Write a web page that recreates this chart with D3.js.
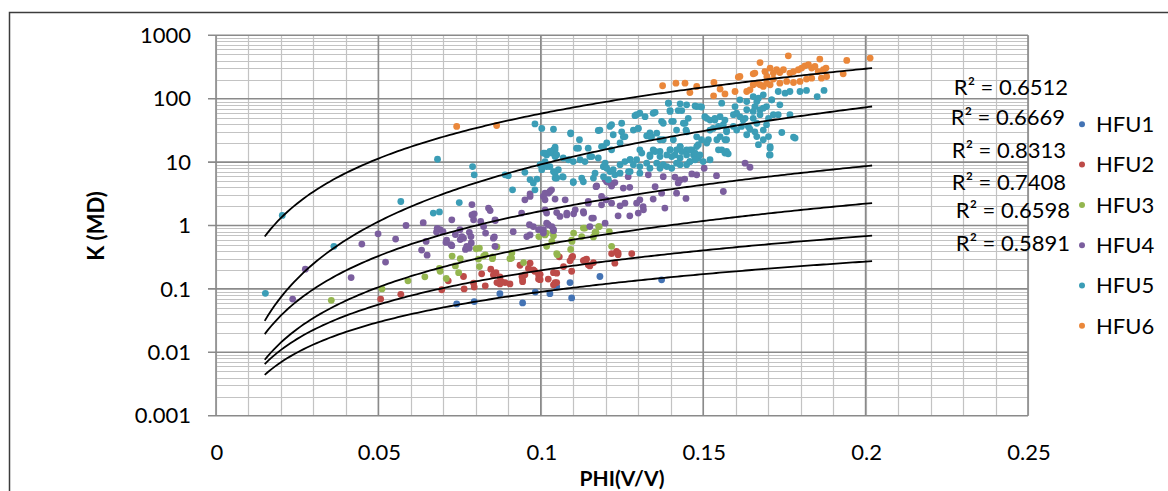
<!DOCTYPE html>
<html>
<head>
<meta charset="utf-8">
<script src="https://cdn.jsdelivr.net/npm/d3@7/dist/d3.min.js"></script>
<style>
  body { margin: 0; background: #fff; }
  svg { display: block; font-family: Lato, "Open Sans", sans-serif; }
</style>
</head>
<body>
<div class="visHolder"></div>
<script>
// series: [PHI, K]
let hfu1 = [[0.0741,0.058],[0.0795,0.063],[0.0874,0.084],[0.0944,0.06],[0.0983,0.089],[0.1028,0.084],[0.1095,0.072],[0.1182,0.157],[0.109,0.126],[0.1372,0.139],[0.1049,0.109]];

let hfu2 = [[0.0507,0.069],[0.0569,0.082],[0.0695,0.097],[0.0715,0.134],[0.0762,0.157],[0.0764,0.10],[0.0793,0.123],[0.0795,0.107],[0.0829,0.112],[0.0846,0.205],[0.0862,0.18],[0.0874,0.154],[0.0936,0.236],[0.0942,0.157],[0.0944,0.13],[0.0962,0.21],[0.0981,0.19],[0.0993,0.143],[0.1023,0.143],[0.1049,0.126],[0.1057,0.32],[0.109,0.277],[0.1098,0.325],[0.1136,0.287],[0.1146,0.24],[0.1162,0.26],[0.0874,0.12],[0.089,0.126],[0.0905,0.12],[0.0998,0.17],[0.1044,0.126],[0.1039,0.18],[0.107,0.225],[0.1095,0.19],[0.1095,0.31],[0.1131,0.28],[0.1141,0.295],[0.1151,0.23],[0.1218,0.36],[0.1233,0.39],[0.1228,0.255],[0.128,0.36],[0.1238,0.345],[0.0818,0.173],[0.0854,0.167],[0.0865,0.126],[0.0879,0.13],[0.0944,0.14],[0.0951,0.167],[0.0967,0.255],[0.0977,0.2],[0.0993,0.167],[0.0998,0.14],[0.1039,0.116],[0.1049,0.177],[0.1238,0.37]];

let hfu3 = [[0.0355,0.066],[0.0511,0.1],[0.0591,0.134],[0.0643,0.155],[0.0727,0.33],[0.0752,0.30],[0.0801,0.43],[0.0811,0.44],[0.0824,0.33],[0.0851,0.30],[0.0865,0.46],[0.0688,0.21],[0.069,0.19],[0.0709,0.146],[0.0737,0.23],[0.0747,0.18],[0.0811,0.225],[0.0905,0.30],[0.0911,0.37],[0.0947,0.26],[0.0994,0.67],[0.1017,0.76],[0.1037,0.80],[0.1051,0.345],[0.1101,0.76],[0.1096,0.56],[0.1092,0.42],[0.1136,0.91],[0.1162,0.66],[0.117,0.78],[0.118,0.96],[0.1211,0.80],[0.1013,0.71],[0.1039,0.69],[0.1018,0.47],[0.1095,0.59],[0.1131,0.91],[0.1126,0.67],[0.1167,0.78],[0.1178,0.96],[0.1218,0.47],[0.1049,0.36],[0.0808,0.295],[0.0829,0.345],[0.0852,0.32],[0.091,0.306],[0.1034,0.56]];

let hfu4 = [[0.0275,0.205],[0.0236,0.069],[0.0416,0.151],[0.0449,0.51],[0.0499,0.74],[0.0522,0.265],[0.0553,0.61],[0.0585,1.0],[0.0638,1.11],[0.0633,0.41],[0.065,0.34],[0.0647,0.56],[0.0681,0.9],[0.069,0.86],[0.0679,0.79],[0.0699,0.8],[0.0726,1.23],[0.0788,2.14],[0.0795,1.53],[0.0793,1.23],[0.078,0.78],[0.0815,1.16],[0.0824,0.96],[0.083,0.76],[0.0839,1.88],[0.086,1.2],[0.0857,0.66],[0.0708,0.54],[0.0723,0.5],[0.0737,0.72],[0.0752,0.6],[0.0762,0.63],[0.0768,0.42],[0.078,0.44],[0.0786,0.53],
  [0.0941,1.57],[0.0965,1.03],[0.0967,0.71],[0.0993,0.86],[0.1018,1.57],[0.1023,1.03],[0.1039,0.83],[0.1049,1.6],[0.1059,1.39],[0.108,1.57],[0.1101,1.53],[0.1132,1.57],[0.1146,2.25],[0.1162,1.31],[0.1198,1.09],[0.1201,2.54],[0.0915,0.80],
  [0.1008,2.87],[0.1023,3.24],[0.1033,3.66],[0.1044,2.61],[0.1075,2.54],[0.1013,1.77],[0.108,1.47],[0.1106,1.77],[0.1131,1.66],[0.1157,1.31],[0.1146,2.39],[0.1187,2.87],[0.1172,4.2],[0.1198,5.3],[0.1218,4.2],[0.1228,4.76],[0.1254,3.9],[0.1274,4.0],[0.1269,5.9],[0.1218,2.25],[0.1244,2.04],[0.1259,2.25],[0.1305,2.54],[0.1315,1.99],[0.13,1.57],[0.1238,1.42],[0.1274,1.42],[0.1331,6.3],[0.1352,4.1],[0.1377,5.9],[0.1372,3.24],[0.1346,2.61],[0.1382,1.88],[0.1413,5.8],[0.1429,5.2],[0.1443,5.4],[0.1423,4.7],[0.1465,6.5],[0.148,6.3],[0.1503,8.0],[0.1418,3.24],[0.1447,2.67],[0.1562,3.44],[0.1018,1.09],[0.1008,0.86],[0.1039,0.86],[0.1151,0.96],
  [0.071,0.59],[0.0726,0.48],[0.0751,0.86],[0.0757,0.67],[0.0772,0.47],[0.0785,0.67],[0.0788,1.47],[0.0844,1.72],[0.0854,0.63],[0.0859,0.47],[0.0859,1.23],[0.0951,2.54],[0.0967,2.87],[0.0977,0.96],[0.0957,0.67],[0.1013,2.54],[0.1028,3.44],[0.1034,0.96],[0.0998,0.86],[0.1008,0.76],
  [0.1629,9.6],[0.1644,8.3],[0.1541,6.1],[0.1316,1.77],[0.1295,2.25],[0.0967,3.16],[0.1013,3.24],[0.1187,2.12],[0.117,4.1],[0.1203,4.9],[0.1213,4.7]];

let hfu5 = [[0.0204,1.44],[0.0152,0.085],[0.0363,0.47],[0.0569,2.39],[0.0669,1.57],[0.0688,1.64],[0.0749,2.3],[0.0682,11.1],[0.079,8.5],[0.0795,6.3],[0.089,6.3],[0.09,6.1],[0.0913,3.66],[0.0951,6.9],[0.0967,5.3],[0.0977,4.7],[0.0988,5.4],[0.0982,3.66],[0.1003,7.6],[0.1013,10.2],[0.1018,13],[0.1034,13.9],[0.1039,15.6],[0.1044,12.2],[0.1049,5.6],[0.1028,8.5],[0.1054,7.6],[0.0998,9.1],[0.0982,40],
  [0.1003,34],[0.1039,33],[0.1092,29],[0.1119,22.5],[0.1177,31.5],[0.1218,39],[0.1249,30],[0.1254,25],[0.13,34],[0.1305,59],[0.129,54],[0.1346,59],[0.1393,85],[0.1398,65],[0.1429,83],[0.1434,65],[0.148,75],[0.1495,74],[0.1505,52],[0.1557,85],[0.1593,56],[0.1572,32],[0.1567,22.5],[0.1603,32],[0.1531,34],[0.1542,22.5],[0.1516,22.5],[0.148,25],[0.1449,30],[0.1439,41],[0.1408,44],[0.1377,41],[0.1336,29],[0.1341,25],[0.1367,22.5],[0.1408,22.5],[0.1429,17.6],[0.1449,15.6],[0.147,13],[0.15,10.2],[0.1557,15.6],[0.1572,14.7],[0.1398,15.6],[0.1367,14.7],[0.1336,12.2],[0.1305,15.6],[0.1295,10.9],[0.1275,10.9],[0.1259,10.2],[0.1244,20],[0.1203,20],[0.1187,17.6],[0.1177,11.6],[0.1151,12.2],[0.1146,16.6],[0.111,16.6],[0.11,10.2],[0.1121,10.9],[0.1069,11.6],[0.1044,15.6],[0.1013,13.9],[0.1003,9.1],[0.1018,8.5],[0.1044,6.7],[0.1069,5.8],[0.11,4.9],[0.1126,5.6],[0.1162,5.6],[0.1193,8.5],[0.1213,7.1],[0.1228,6.3],[0.1208,5.3],[0.127,7.1],[0.1305,6.7],[0.1336,8.0],[0.1357,9.6],[0.1377,9.1],[0.1403,8.0],[0.1429,9.1],[0.1459,10.2],[0.1485,11.6],[0.1511,20],[0.148,17.6],[0.1521,32],[0.1536,46],[0.1567,46],[0.1598,75],
  [0.1393,85],[0.1398,63],[0.1423,65],[0.1449,80],[0.1475,77],[0.149,75],[0.1454,49],[0.1444,41],[0.1447,32],[0.1418,32],[0.1403,44],[0.1372,44],[0.1352,61],[0.1321,52],[0.1295,56],[0.13,34],[0.1326,26],[0.1336,25.3],[0.1357,28.6],[0.1346,15.6],[0.1377,22.5],[0.1398,15.6],[0.1413,13],[0.1429,17.6],[0.1465,15.6],[0.1475,13.9],[0.1485,18.8],[0.1495,22.5],[0.1511,49],[0.1521,46],[0.1536,49],[0.1552,52],[0.1547,36.5],[0.1562,39],[0.1572,30],[0.1593,36.5],[0.1603,59],[0.1613,52],[0.1629,49],[0.1639,36.5],[0.1654,63],[0.1665,90],[0.1675,67],[0.1695,75],[0.1711,96],[0.1665,41],[0.1685,32],[0.1701,25.3],[0.1706,17.6],[0.1706,13],[0.1634,27],[0.1665,25.3],[0.1552,25.3],[0.1572,22.5],[0.1547,15.6],[0.1567,13.9],[0.1577,13.5],[0.1521,10.9],
  [0.1613,96],[0.1634,90],[0.1654,108],[0.167,102],[0.1685,115],[0.1711,96],[0.1731,130],[0.1752,122],[0.1767,130],[0.1798,130],[0.1818,135],[0.1851,108],[0.1872,135],[0.1634,67],[0.1659,75],[0.1685,71],[0.1716,56],[0.1736,80],[0.1623,46],[0.1654,49],[0.1675,56],[0.1701,49],[0.1731,56],[0.1767,56],[0.1695,39],[0.1659,30],[0.1685,22.5],[0.167,18.8],[0.1742,29.3],[0.1783,23.9],[0.1706,16.6],[0.1704,13],[0.1618,36.5],[0.1644,33],[0.1778,24.8],
  [0.1092,28],[0.1008,13.9],[0.1028,14.7],[0.1044,17.2],[0.1049,13],[0.1085,10.9],[0.1116,16.6],[0.1136,10.2],[0.1157,12.2],[0.1193,17.6],[0.1193,8.5],[0.1039,7.1],[0.1044,5.6],[0.1067,5.9],[0.11,4.76],[0.1131,4.9],[0.1167,6.7],[0.1193,5.9],
  [0.1182,32],[0.1213,36.5],[0.1223,27],[0.1249,41],[0.1259,25.3],[0.1285,32],[0.1218,15.6],[0.1198,9.6],[0.1244,9.1],[0.1275,10.9],[0.1285,9.1],[0.1311,13.9],
  [0.1336,13],[0.1352,14.7],[0.1367,12.2],[0.1388,13],[0.1403,12.2],[0.1418,15.6],[0.1434,14.7],[0.1429,11.6],[0.1449,13],[0.1459,15.6],[0.1475,10.9],[0.149,13],[0.1367,8.0],[0.1388,8.5],[0.1418,9.6],[0.1449,9.1],[0.1459,10.2],[0.1326,9.6],[0.1305,8.5],[0.1275,7.1],[0.1244,6.7],[0.1223,7.6],[0.1203,8.0]];

let hfu6 = [[0.0741,36.5],[0.0864,37.8],[0.1608,219],
  [0.1375,160],[0.1416,176],[0.1444,176],[0.1459,125],[0.148,156],[0.1533,180],[0.1532,111],[0.1552,142],[0.1567,119],[0.1598,130],[0.1634,130],[0.1675,372],[0.1654,247],[0.1665,176],[0.1685,156],[0.1696,224],[0.1716,254],[0.1726,286],[0.1706,166],[0.1654,166],[0.1644,138],
  [0.1659,254],[0.169,268],[0.1706,304],[0.1736,259],[0.1747,286],[0.1762,475],[0.1767,254],[0.1778,268],[0.1793,286],[0.1803,304],[0.1813,330],[0.1824,343],[0.1834,304],[0.1844,322],[0.1859,422],[0.1854,268],[0.187,286],[0.1878,304],[0.188,224],[0.1864,211],[0.1834,211],[0.1818,204],[0.1798,187],[0.1778,180],[0.1757,187],[0.1736,176],[0.1716,204],[0.1695,176],[0.1675,166],[0.1942,401],[0.1931,247],[0.2014,437],[0.1613,224]];

let seriesNames = ["HFU1", "HFU2", "HFU3", "HFU4", "HFU5", "HFU6"];
let seriesData = [hfu1, hfu2, hfu3, hfu4, hfu5, hfu6];
let seriesColors = ["#4373b4", "#bd4b48", "#94b64f", "#7b5e9e", "#3b9db6", "#ea873a"];

// power trendlines K = a * PHI^b, from top curve to bottom curve
let trendA = [13100, 9050, 382, 74.9, 12.14, 3.475];
let trendB = [2.353, 2.994, 2.355, 2.189, 1.793, 1.588];
let trendRange = [0.015, 0.202];
let rSquared = ["0.6512", "0.6669", "0.8313", "0.7408", "0.6598", "0.5891"];

let xTicks = [0, 0.05, 0.1, 0.15, 0.2, 0.25];
let xTickLabels = ["0", "0.05", "0.1", "0.15", "0.2", "0.25"];
let yTicks = [0.001, 0.01, 0.1, 1, 10, 100, 1000];
let yTickLabels = ["0.001", "0.01", "0.1", "1", "10", "100", "1000"];

let width = 1168;
let height = 491;

let svg = d3
  .select(".visHolder")
  .append("svg")
  .attr("width", width)
  .attr("height", height);

let xScale = d3.scaleLinear().domain([0, 0.25]).range([216, 1028]);
let yScale = d3.scaleLog().domain([0.001, 1000]).range([415.7, 35.3]);

// outer frame
svg.append("path")
  .attr("d", "M9.5,500V12.5H1180")
  .attr("fill", "none")
  .attr("stroke", "#3c3c3c")
  .attr("stroke-width", 1.5);

// minor gridlines
let minorY = [];
for (let e = -3; e < 3; e++) {
  for (let m = 2; m < 10; m++) minorY.push(m * Math.pow(10, e));
}
let minorX = d3.range(0, 26).map(function (i) { return i / 100; });

let grid = svg.append("g");
grid.selectAll(".minor-y")
  .data(minorY)
  .enter()
  .append("line")
  .attr("x1", xScale(0))
  .attr("x2", xScale(0.25))
  .attr("y1", function (d) { return Math.round(yScale(d)) + 0.5; })
  .attr("y2", function (d) { return Math.round(yScale(d)) + 0.5; })
  .attr("stroke", "#c3c3c3")
  .attr("stroke-width", 1);

grid.selectAll(".minor-x")
  .data(minorX)
  .enter()
  .append("line")
  .attr("x1", function (d) { return Math.round(xScale(d)) + 0.5; })
  .attr("x2", function (d) { return Math.round(xScale(d)) + 0.5; })
  .attr("y1", yScale(1000))
  .attr("y2", yScale(0.001))
  .attr("stroke", "#c3c3c3")
  .attr("stroke-width", 1.2);

grid.selectAll(".major-y")
  .data(yTicks)
  .enter()
  .append("line")
  .attr("x1", xScale(0) - 8)
  .attr("x2", xScale(0.25))
  .attr("y1", function (d) { return yScale(d); })
  .attr("y2", function (d) { return yScale(d); })
  .attr("stroke", "#8a8a8a")
  .attr("stroke-width", 1.6);

grid.selectAll(".major-x")
  .data(xTicks)
  .enter()
  .append("line")
  .attr("x1", function (d) { return xScale(d); })
  .attr("x2", function (d) { return xScale(d); })
  .attr("y1", yScale(1000))
  .attr("y2", yScale(0.001))
  .attr("stroke", "#8a8a8a")
  .attr("stroke-width", 1.6);

// axis labels
svg.append("g")
  .selectAll("text")
  .data(yTicks)
  .enter()
  .append("text")
  .attr("x", 191)
  .attr("y", function (d) { return yScale(d); })
  .attr("dy", "0.35em")
  .attr("text-anchor", "end")
  .attr("font-size", 22)
  .attr("fill", "#000")
  .text(function (d, i) { return yTickLabels[i]; });

svg.append("g")
  .selectAll("text")
  .data(xTicks)
  .enter()
  .append("text")
  .attr("x", function (d) { return xScale(d) + 1; })
  .attr("y", 452)
  .attr("dy", "0.35em")
  .attr("text-anchor", "middle")
  .attr("font-size", 22)
  .attr("fill", "#000")
  .text(function (d, i) { return xTickLabels[i]; });

svg.append("text")
  .attr("x", 622)
  .attr("y", 479)
  .attr("dy", "0.35em")
  .attr("text-anchor", "middle")
  .attr("font-size", 21)
  .attr("font-weight", "bold")
  .text("PHI(V/V)");

svg.append("text")
  .attr("transform", "translate(96,226) rotate(-90)")
  .attr("dy", "0.35em")
  .attr("text-anchor", "middle")
  .attr("font-size", 22)
  .attr("font-weight", "bold")
  .text("K (MD)");

// points
let pts = svg.append("g");
seriesData.forEach(function (data, s) {
  pts.append("g")
    .selectAll("circle")
    .data(data)
    .enter()
    .append("circle")
    .attr("cx", function (d) { return xScale(d[0]); })
    .attr("cy", function (d) { return yScale(d[1]); })
    .attr("r", 3.4)
    .attr("fill", seriesColors[s]);
});

// trendlines
let line = d3.line()
  .x(function (d) { return xScale(d[0]); })
  .y(function (d) { return yScale(d[1]); });

trendA.forEach(function (a, i) {
  let xs = d3.range(trendRange[0], trendRange[1] + 0.0005, 0.001);
  let curve = xs.map(function (x) { return [x, a * Math.pow(x, trendB[i])]; });
  svg.append("path")
    .datum(curve)
    .attr("d", line)
    .attr("fill", "none")
    .attr("stroke", "#000")
    .attr("stroke-width", 1.8);
});

// R² labels
let labelRight = [1068, 1065, 1066, 1066, 1070, 1070];
let labelY = [87, 117, 150, 182, 210, 243];
svg.append("g")
  .selectAll("text")
  .data(rSquared)
  .enter()
  .append("text")
  .attr("x", function (d, i) { return labelRight[i]; })
  .attr("y", function (d, i) { return labelY[i]; })
  .attr("dy", "0.35em")
  .attr("text-anchor", "end")
  .attr("font-size", 22)
  .attr("fill", "#000")
  .text(function (d) { return "R² = " + d; });

// legend
let legend = svg.append("g")
  .selectAll("g")
  .data(seriesNames)
  .enter()
  .append("g")
  .attr("transform", function (d, i) { return "translate(1082," + (124.3 + i * 40.3) + ")"; });

legend.append("circle")
  .attr("r", 3)
  .attr("fill", function (d, i) { return seriesColors[i]; });

legend.append("text")
  .attr("x", 14)
  .attr("dy", "0.35em")
  .attr("font-size", 22)
  .attr("fill", "#000")
  .text(function (d) { return d; });
</script>
</body>
</html>
